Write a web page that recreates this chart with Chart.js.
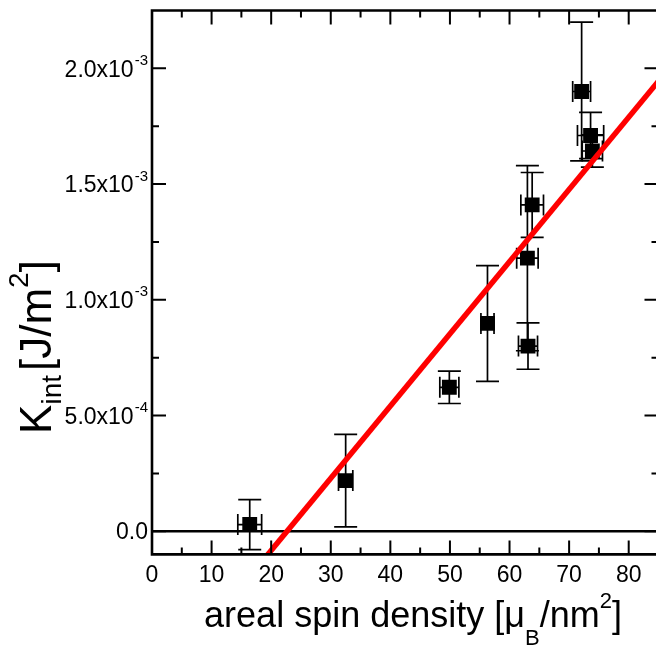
<!DOCTYPE html>
<html><head><meta charset="utf-8">
<script src="https://cdn.jsdelivr.net/npm/chart.js@4.4.1/dist/chart.umd.min.js"></script>
<style>
html,body{margin:0;padding:0;overflow:hidden;background:#fff;width:656px;height:647px}
#wrap{position:absolute;left:0;top:0;width:669px;height:647px}
</style>
</head><body><div id="wrap"><canvas id="c" width="669" height="647"></canvas></div>
<script>
// ---- data ----
const spinDensity   = [16.4, 32.5, 49.9, 56.3, 63.1, 63.0, 63.8, 72.1, 73.6, 73.9];
const spinDensityErr= [2.0, 1.2, 1.6, 1.1, 1.6, 1.8, 1.9, 1.5, 2.2, 1.7];
const kInt          = [2.9e-5, 2.19e-4, 6.22e-4, 8.98e-4, 8.0e-4, 1.18e-3, 1.41e-3, 1.90e-3, 1.71e-3, 1.643e-3];
const kIntErr       = [1.08e-4, 2.0e-4, 0.7e-4, 2.5e-4, 1.0e-4, 4.0e-4, 1.4e-4, 3.0e-4, 1.0e-4, 0.7e-4];
const fitX          = [15, 90];
const fitY          = [-2.39e-4, 2.101e-3];
const xTickValues   = [0, 10, 20, 30, 40, 50, 60, 70, 80];
const xTickLabels   = ['0', '10', '20', '30', '40', '50', '60', '70', '80'];
const xMinorValues  = [5, 15, 25, 35, 45, 55, 65, 75, 85];
const yTickValues   = [0, 5e-4, 1e-3, 1.5e-3, 2e-3];
const yTickBase     = ['0.0', '5.0x10', '1.0x10', '1.5x10', '2.0x10'];
const yTickExp      = ['', '-4', '-3', '-3', '-3'];
const yMinorValues  = [2.5e-4, 7.5e-4, 1.25e-3, 1.75e-3];

const FONT = '"Liberation Sans", Arial, sans-serif';

function drawRich(ctx, parts, x, y) {
  // parts: [text, size, dy, extraGapAfter]
  let total = 0;
  const widths = parts.map(p => { ctx.font = p[1] + 'px ' + FONT; const w = ctx.measureText(p[0]).width + (p[3] || 0); total += w; return w; });
  let cx = x - total / 2;
  parts.forEach((p, i) => {
    ctx.font = p[1] + 'px ' + FONT;
    ctx.fillText(p[0], cx, y + p[2]);
    cx += widths[i];
  });
}

const framePlugin = {
  id: 'frame',
  beforeDatasetsDraw(chart) {
    const {ctx, chartArea: a, scales: {x, y}} = chart;
    ctx.save();
    ctx.strokeStyle = '#000';
    ctx.lineWidth = 2.5;
    const y0 = y.getPixelForValue(0);
    ctx.beginPath(); ctx.moveTo(a.left, y0); ctx.lineTo(a.right, y0); ctx.stroke();
    ctx.lineWidth = 1.7;
    const CAP = 11.5, CAPX = 10.5;
    for (let i = 0; i < spinDensity.length; i++) {
      const px = x.getPixelForValue(spinDensity[i]);
      const py = y.getPixelForValue(kInt[i]);
      const yt = y.getPixelForValue(kInt[i] + kIntErr[i]);
      const yb = y.getPixelForValue(kInt[i] - kIntErr[i]);
      const xl = x.getPixelForValue(spinDensity[i] - spinDensityErr[i]);
      const xr = x.getPixelForValue(spinDensity[i] + spinDensityErr[i]);
      ctx.beginPath();
      ctx.moveTo(px, yt); ctx.lineTo(px, yb);
      ctx.moveTo(px - CAP, yt); ctx.lineTo(px + CAP, yt);
      ctx.moveTo(px - CAP, yb); ctx.lineTo(px + CAP, yb);
      ctx.moveTo(xl, py); ctx.lineTo(xr, py);
      ctx.moveTo(xl, py - CAPX); ctx.lineTo(xl, py + CAPX);
      ctx.moveTo(xr, py - CAPX); ctx.lineTo(xr, py + CAPX);
      ctx.stroke();
    }
    ctx.restore();
  },
  afterDatasetsDraw(chart) {
    const {ctx, chartArea: a, scales: {x, y}} = chart;
    ctx.save();
    ctx.strokeStyle = '#000';
    ctx.fillStyle = '#000';
    ctx.lineWidth = 2;
    ctx.beginPath();
    const MAJ = 14, MIN = 7;
    xTickValues.forEach(v => { const p = x.getPixelForValue(v);
      ctx.moveTo(p, a.bottom); ctx.lineTo(p, a.bottom - MAJ);
      ctx.moveTo(p, a.top); ctx.lineTo(p, a.top + MAJ); });
    xMinorValues.forEach(v => { const p = x.getPixelForValue(v);
      ctx.moveTo(p, a.bottom); ctx.lineTo(p, a.bottom - MIN);
      ctx.moveTo(p, a.top); ctx.lineTo(p, a.top + MIN); });
    yTickValues.forEach(v => { const p = y.getPixelForValue(v);
      ctx.moveTo(a.left, p); ctx.lineTo(a.left + MAJ, p);
      ctx.moveTo(a.right, p); ctx.lineTo(a.right - MAJ, p); });
    yMinorValues.forEach(v => { const p = y.getPixelForValue(v);
      ctx.moveTo(a.left, p); ctx.lineTo(a.left + MIN, p);
      ctx.moveTo(a.right, p); ctx.lineTo(a.right - MIN, p); });
    ctx.stroke();
    ctx.lineWidth = 2.6;
    ctx.beginPath();
    ctx.moveTo(a.left, a.top); ctx.lineTo(a.right, a.top);
    ctx.moveTo(a.left, a.bottom); ctx.lineTo(a.right, a.bottom);
    ctx.moveTo(a.left, a.top - 1.3); ctx.lineTo(a.left, a.bottom + 1.3);
    ctx.moveTo(a.right, a.top - 1.3); ctx.lineTo(a.right, a.bottom + 1.3);
    ctx.stroke();
    ctx.textBaseline = 'alphabetic';
    ctx.textAlign = 'left';
    const RIGHT = a.left - 4;
    yTickValues.forEach((v, i) => {
      const p = y.getPixelForValue(v);
      ctx.font = '15px ' + FONT;
      const ws = yTickExp[i] ? ctx.measureText(yTickExp[i]).width + 1 : 0;
      ctx.font = '23px ' + FONT;
      const wb = ctx.measureText(yTickBase[i]).width;
      const bx = RIGHT - ws - wb;
      ctx.fillText(yTickBase[i], bx, p + 8.2);
      if (yTickExp[i]) { ctx.font = '15px ' + FONT; ctx.fillText(yTickExp[i], bx + wb + 1, p - 3.5); }
    });
    drawRich(ctx, [['areal spin density [', 36, 0], ['\u03bc', 36, 0], ['B', 22, 18], ['/nm', 36, 0], ['2', 22, -19], [']', 36, 0]], 413, 627);
    ctx.translate(51, 347);
    ctx.rotate(-Math.PI / 2);
    drawRich(ctx, [['K', 44, 0], ['int', 28, 10, 4], ['[J/m', 44, 0], ['2', 28, -23], [']', 44, 0]], 0, 0);
    ctx.restore();
  }
};

new Chart(document.getElementById('c'), {
  data: {
    datasets: [
      { type: 'line', data: fitX.map((v, i) => ({x: v, y: fitY[i]})), borderColor: '#ff0000', borderWidth: 5.5,
        pointRadius: 0, fill: false, clip: 0, order: 0, tension: 0 },
      { type: 'scatter', data: spinDensity.map((v, i) => ({x: v, y: kInt[i]})), pointStyle: 'rect', pointRadius: 10.5,
        backgroundColor: '#000', borderColor: '#000', borderWidth: 0, order: 1 }
    ]
  },
  options: {
    responsive: false, animation: false, devicePixelRatio: 1,
    layout: { padding: { left: 152, top: 7, right: 6, bottom: 51 } },
    plugins: { legend: { display: false }, tooltip: { enabled: false } },
    scales: {
      x: { type: 'linear', min: 0, max: 85,
        afterBuildTicks: s => { s.ticks = xTickValues.map(v => ({value: v})); },
        grid: { display: false, drawTicks: false }, border: { display: false },
        ticks: { color: '#000', padding: 7, font: { family: FONT, size: 23 },
          callback: v => xTickLabels[xTickValues.indexOf(v)] } },
      y: { type: 'linear', min: -1e-4, max: 2.25e-3, display: false }
    }
  },
  plugins: [framePlugin]
});
</script>
</body></html>
